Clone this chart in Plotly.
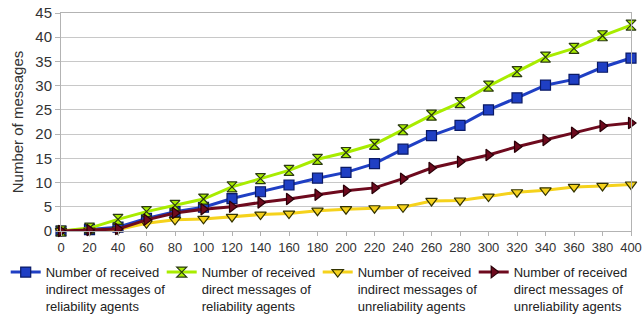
import plotly.graph_objects as go

x_vals = [0, 20, 40, 60, 80, 100, 120, 140, 160, 180, 200, 220, 240, 260, 280, 300, 320, 340, 360, 380, 400]

indirect_reliab = [0, 0.3, 0.8, 2.6, 4.0, 4.9, 6.7, 8.1, 9.5, 10.9, 12.1, 13.9, 16.9, 19.7, 21.8, 25.0, 27.5, 30.1, 31.3, 33.8, 35.7]
direct_reliab = [0, 0.6, 2.4, 4.0, 5.3, 6.6, 9.1, 10.8, 12.5, 14.8, 16.2, 17.9, 20.9, 23.9, 26.5, 29.9, 32.9, 35.9, 37.7, 40.3, 42.5]
indirect_unreliab = [0, 0.1, 0.3, 1.6, 2.3, 2.5, 2.9, 3.4, 3.6, 4.2, 4.5, 4.7, 4.9, 6.2, 6.3, 7.1, 8.0, 8.4, 9.1, 9.3, 9.6]
direct_unreliab = [0, 0.2, 0.4, 2.3, 3.7, 4.5, 5.0, 5.9, 6.6, 7.5, 8.3, 8.9, 10.8, 13.0, 14.3, 15.7, 17.4, 18.8, 20.3, 21.7, 22.3]

names = [
    "Number of received<br>indirect messages of<br>reliability agents",
    "Number of received<br>direct messages of<br>reliability agents",
    "Number of received<br>indirect messages of<br>unreliability agents",
    "Number of received<br>direct messages of<br>unreliability agents",
]

fig = go.Figure()
series = [
    (indirect_reliab, names[0], "#1f3fc4", "square", "#1f3fc4", "#0a1a66"),
    (direct_reliab, names[1], "#a8ec00", "hourglass", "#a8ec00", "#2a3a10"),
    (indirect_unreliab, names[2], "#f5d21c", "triangle-down", "#f5d21c", "#333300"),
    (direct_unreliab, names[3], "#6e0a1e", "triangle-right", "#6e0a1e", "#2a0008"),
]
for ys, nm, lc, sym, fc, bc in series:
    fig.add_trace(go.Scatter(
        x=x_vals, y=ys, name=nm, mode="lines+markers",
        line=dict(color=lc, width=3),
        marker=dict(symbol=sym, size=10, color=fc, line=dict(color=bc, width=1.2)),
        cliponaxis=False,
    ))

fig.update_layout(
    width=644, height=318,
    margin=dict(l=61, r=13, t=13, b=87, autoexpand=False),
    paper_bgcolor="white", plot_bgcolor="white",
    font=dict(family="Liberation Sans, Arial, sans-serif", size=12, color="#333333"),
    showlegend=True,
    legend=dict(
        orientation="h", x=-0.097, xanchor="left", y=-0.12, yanchor="top",
        font=dict(size=13, color="#222222"),
        itemwidth=30, entrywidth=111, valign="top",
        tracegroupgap=0, itemclick=False, borderwidth=0,
    ),
    xaxis=dict(
        range=[0, 400], tickmode="array", tickvals=x_vals, ticktext=[str(v) for v in x_vals],
        showgrid=False, showline=True, linecolor="#b3b3b3", linewidth=1, mirror=True,
        ticks="outside", ticklen=4, tickcolor="#b3b3b3", zeroline=False,
        tickfont=dict(size=13, color="#333333"),
    ),
    yaxis=dict(
        range=[0, 45], dtick=5, showgrid=True, gridcolor="#c8c8c8", gridwidth=1,
        showline=True, linecolor="#b3b3b3", linewidth=1, mirror=True,
        ticks="outside", ticklen=5, tickcolor="#b3b3b3", zeroline=False,
        tickfont=dict(size=15, color="#333333"),
        title=dict(text="Number of messages", font=dict(size=15, color="#333333"), standoff=8),
    ),
)

fig.write_html("out.html", config={"displayModeBar": False},
               post_script="document.body.style.margin='0';")
